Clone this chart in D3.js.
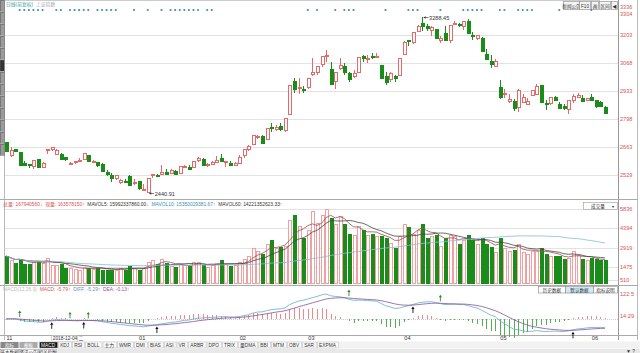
<!DOCTYPE html>
<html>
<head>
<meta charset="utf-8">
<script src="https://cdn.jsdelivr.net/npm/d3@7"></script>
<style>
  body { margin: 0; background: #fff; }
  svg { display: block; font-family: Arial, "Liberation Sans", "Noto Sans CJK SC", sans-serif; }
</style>
</head>
<body>
<svg id="chart" width="640" height="353"></svg>
<script>
'use strict'

const d3 = window.d3

// daily bars, SSE composite, 2018-11-20 .. 2019-06-06
const dates = [
  '2018-11-20', '2018-11-21', '2018-11-22', '2018-11-23', '2018-11-26', '2018-11-27', '2018-11-28', '2018-11-29', '2018-11-30',
  '2018-12-03', '2018-12-04', '2018-12-05', '2018-12-06', '2018-12-07', '2018-12-10', '2018-12-11', '2018-12-12', '2018-12-13',
  '2018-12-14', '2018-12-17', '2018-12-18', '2018-12-19', '2018-12-20', '2018-12-21', '2018-12-24', '2018-12-25', '2018-12-26',
  '2018-12-27', '2018-12-28',
  '2019-01-02', '2019-01-03', '2019-01-04', '2019-01-07', '2019-01-08', '2019-01-09', '2019-01-10', '2019-01-11', '2019-01-14',
  '2019-01-15', '2019-01-16', '2019-01-17', '2019-01-18', '2019-01-21', '2019-01-22', '2019-01-23', '2019-01-24', '2019-01-25',
  '2019-01-28', '2019-01-29', '2019-01-30', '2019-01-31',
  '2019-02-01', '2019-02-11', '2019-02-12', '2019-02-13', '2019-02-14', '2019-02-15', '2019-02-18', '2019-02-19', '2019-02-20',
  '2019-02-21', '2019-02-22', '2019-02-25', '2019-02-26', '2019-02-27', '2019-02-28',
  '2019-03-01', '2019-03-04', '2019-03-05', '2019-03-06', '2019-03-07', '2019-03-08', '2019-03-11', '2019-03-12', '2019-03-13',
  '2019-03-14', '2019-03-15', '2019-03-18', '2019-03-19', '2019-03-20', '2019-03-21', '2019-03-22', '2019-03-25', '2019-03-26',
  '2019-03-27', '2019-03-28', '2019-03-29',
  '2019-04-01', '2019-04-02', '2019-04-03', '2019-04-04', '2019-04-08', '2019-04-09', '2019-04-10', '2019-04-11', '2019-04-12',
  '2019-04-15', '2019-04-16', '2019-04-17', '2019-04-18', '2019-04-19', '2019-04-22', '2019-04-23', '2019-04-24', '2019-04-25',
  '2019-04-26', '2019-04-29', '2019-04-30',
  '2019-05-06', '2019-05-07', '2019-05-08', '2019-05-09', '2019-05-10', '2019-05-13', '2019-05-14', '2019-05-15', '2019-05-16',
  '2019-05-17', '2019-05-20', '2019-05-21', '2019-05-22', '2019-05-23', '2019-05-24', '2019-05-27', '2019-05-28', '2019-05-29',
  '2019-05-30', '2019-05-31',
  '2019-06-03', '2019-06-04', '2019-06-05', '2019-06-06'
]

const opens = [
  2688, 2623, 2654, 2640, 2586, 2580, 2574, 2605, 2567,
  2647, 2655, 2632, 2630, 2614, 2583, 2591, 2600, 2606, 2627, 2592, 2591, 2583, 2542, 2528, 2513, 2497, 2501, 2524, 2489,
  2498, 2461, 2446, 2528, 2530, 2535, 2543, 2540, 2548, 2539, 2568, 2569, 2568, 2599, 2606, 2575, 2582, 2592, 2610, 2591, 2589, 2578,
  2589, 2626, 2652, 2677, 2711, 2717, 2700, 2760, 2750, 2764, 2748, 2825, 2980, 2948, 2942,
  2954, 3016, 3023, 3062, 3101, 3039, 2981, 3042, 3052, 3021, 3004, 3027, 3101, 3086, 3104, 3101, 3058, 3008, 2989, 3004, 3009,
  3112, 3177, 3167, 3221, 3261, 3244, 3226, 3232, 3180, 3213, 3178, 3262, 3256, 3248, 3271, 3203, 3188, 3187, 3113, 3076, 3052,
  2954, 2922, 2887, 2883, 2858, 2880, 2870, 2913, 2920, 2960, 2877, 2874, 2904, 2870, 2860, 2846, 2890, 2904, 2900, 2889,
  2906, 2889, 2880, 2856
]

const highs = [
  2689, 2663, 2656, 2642, 2596, 2583, 2602, 2606, 2593,
  2655, 2666, 2654, 2635, 2616, 2592, 2596, 2612, 2634, 2627, 2603, 2591, 2586, 2551, 2537, 2527, 2512, 2508, 2531, 2512,
  2500, 2488, 2515, 2536, 2532, 2575, 2557, 2556, 2553, 2571, 2576, 2577, 2598, 2618, 2611, 2588, 2596, 2619, 2630, 2597, 2596, 2591,
  2623, 2654, 2674, 2722, 2723, 2721, 2755, 2779, 2769, 2780, 2804, 2961, 2997, 2994, 2959,
  2995, 3090, 3055, 3103, 3129, 3075, 3027, 3091, 3070, 3027, 3036, 3096, 3106, 3108, 3118, 3117, 3060, 3023, 3024, 3009, 3093,
  3176, 3180, 3217, 3251, 3288.45, 3254, 3248, 3233, 3197, 3245, 3253, 3270, 3262, 3272, 3281, 3216, 3205, 3194, 3137, 3105, 3089,
  2987, 2942, 2921, 2896, 2941, 2917, 2902, 2939, 2965, 2963, 2891, 2906, 2911, 2881, 2870, 2892, 2918, 2926, 2912, 2902,
  2919, 2889, 2887, 2859
]

const lows = [
  2640, 2614, 2638, 2577, 2571, 2562, 2560, 2566, 2567,
  2628, 2643, 2630, 2604, 2598, 2576, 2583, 2596, 2602, 2593, 2586, 2568, 2543, 2526, 2496, 2504, 2488, 2494, 2483, 2483,
  2456, 2455, 2440.91, 2516, 2520, 2534, 2533, 2535, 2534, 2538, 2563, 2554, 2566, 2591, 2577, 2569, 2576, 2588, 2596, 2569, 2575, 2574,
  2589, 2612, 2646, 2677, 2704, 2681, 2700, 2737, 2743, 2741, 2735, 2825, 2922, 2918, 2922,
  2944, 3006, 3009, 3050, 3075, 2969, 2941, 3034, 3010, 2976, 2997, 3020, 3072, 3068, 3086, 3090, 2993, 2961, 2979, 2979, 3005,
  3110, 3150, 3161, 3216, 3220, 3224, 3200, 3186, 3166, 3175, 3163, 3249, 3240, 3228, 3208, 3178, 3179, 3123, 3085, 3045, 3052,
  2896, 2901, 2876, 2838, 2834, 2881, 2864, 2908, 2919, 2878, 2844, 2867, 2884, 2852, 2840, 2823, 2878, 2900, 2880, 2889,
  2883, 2853, 2855, 2822
]

const closes = [
  2645, 2651, 2645, 2579, 2576, 2575, 2601, 2567, 2588,
  2654, 2666, 2649, 2605, 2606, 2585, 2594, 2602, 2634, 2594, 2597, 2576, 2550, 2536, 2516, 2527, 2504, 2498, 2483, 2494,
  2465, 2464, 2515, 2534, 2526, 2545, 2536, 2554, 2536, 2570, 2570, 2560, 2596, 2610, 2579, 2581, 2592, 2601, 2597, 2594, 2575, 2585,
  2618, 2653, 2671, 2721, 2719, 2682, 2754, 2755, 2761, 2751, 2804, 2961, 2941, 2954, 2941,
  2994, 3027, 3054, 3102, 3106, 2969, 3026, 3060, 3027, 2991, 3022, 3096, 3091, 3091, 3101, 3104, 2998, 2977, 3022, 2995, 3091,
  3170, 3176, 3216, 3247, 3244, 3239, 3241, 3189, 3189, 3177, 3253, 3263, 3251, 3271, 3215, 3198, 3201, 3124, 3086, 3063, 3078,
  2906, 2926, 2894, 2850, 2939, 2903, 2884, 2939, 2956, 2882, 2871, 2905, 2892, 2853, 2853, 2892, 2910, 2914, 2886, 2899,
  2890, 2862, 2862, 2828
]

// volume, 1e7 shares
const volumes = [
  2320, 2050, 1800, 2100, 1750, 1700, 1850, 1900, 1800,
  2170, 1679, 1650, 1750, 1450, 1400, 1350, 1250, 1500, 1450, 1350, 1400, 1300, 1300, 1300, 1250, 1450, 1300, 1550, 1450,
  1300, 1400, 1900, 2000, 1700, 2100, 1800, 1600, 1500, 1700, 1650, 1550, 1850, 1900, 1650, 1500, 1650, 1800, 2000, 1700, 1550, 1650,
  1900, 2100, 2300, 2900, 2700, 2500, 3200, 3500, 2900, 3000, 3100, 5000, 5400, 4600, 3700,
  4300, 5700, 4800, 5400, 5836, 5200, 4700, 5300, 4700, 4000, 3900, 4600, 4300, 3900, 4000, 3800, 3800, 3700, 3300, 2900, 3800,
  4700, 4500, 4000, 4300, 4700, 3700, 3800, 3900, 3100, 3700, 3900, 3800, 3200, 3500, 3900, 3500, 3200, 3700, 3200, 3000, 2600,
  3700, 2900, 2700, 2800, 3200, 2600, 2500, 2700, 2700, 2900, 2500, 2300, 2300, 2300, 2100, 2200, 2700, 2400, 2100, 2000,
  2200, 2100, 2000, 2000
]

const priceTicks = [3336, 3304, 3203, 3068, 2933, 2798, 2663, 2529]
const priceGrid = [3203, 3068, 2933, 2798, 2663, 2529]
const volTicks = [5836, 4394, 2919, 1475, 510]
const macdTicks = [122.5, 14.29]
const monthStarts = ['2018-11-20', '2019-01-02', '2019-02-01', '2019-03-01', '2019-04-01', '2019-05-06', '2019-06-03']
const monthLabels = ['11', '01', '02', '03', '04', '05', '06']
const cursorDate = '2018-12-04'
const signalIdx = [3, 4, 5, 6, 7, 8, 11, 12, 14, 15, 16, 17, 18, 20, 21, 22, 23, 24, 28, 31, 34, 36, 37, 38, 39, 40, 41, 42, 44, 45,
  66, 68, 72, 74, 75, 76, 83, 88, 89, 90, 95, 100, 101, 102, 103, 104, 108, 109, 112, 113, 114, 115, 121, 128]
const goldenIdx = [10, 17, 33, 89, 124]
const deathIdx = [3, 14, 18, 75, 95]
const tabs = ['MACD', 'KDJ', 'RSI', 'BOLL', '主力', 'WMR', 'DMI', 'BIAS', 'ASI', 'VR', 'ARBR', 'DPO', 'TRIX', '量DMA', 'BBI', 'MTM', 'OBV', 'SAR', 'EXPMA']

const UP = '#e46a6a'
const UP_VOL = '#f0a0a0'
const DOWN = '#1a8c1a'
const AXIS_RED = '#d9534f'
const GRID = '#e2e2e2'
const FS = 5.6

const svg = d3.select('#chart')
svg.append('rect').attr('width', 640).attr('height', 353).attr('fill', '#fff')

const x = d3.scalePoint().domain(dates).range([6, 605])
const xr = (d) => Math.round(x(d)) + 0.5

// ---- frame ----
const frame = svg.append('g').attr('shape-rendering', 'crispEdges')
frame.append('line').attr('x1', 0).attr('x2', 600).attr('y1', 0.5).attr('y2', 0.5).attr('stroke', '#ccc')
frame.append('line').attr('x1', 618.5).attr('x2', 618.5).attr('y1', 0).attr('y2', 340).attr('stroke', '#999')
frame.append('line').attr('x1', 637.5).attr('x2', 637.5).attr('y1', 0).attr('y2', 340).attr('stroke', '#bbb')
frame.append('line').attr('x1', 4.5).attr('x2', 4.5).attr('y1', 0).attr('y2', 340).attr('stroke', '#bbb')
frame.append('line').attr('x1', 0).attr('x2', 638).attr('y1', 199.5).attr('y2', 199.5).attr('stroke', '#aaa')
frame.append('line').attr('x1', 0).attr('x2', 638).attr('y1', 285.5).attr('y2', 285.5).attr('stroke', '#aaa')
frame.append('line').attr('x1', 0).attr('x2', 638).attr('y1', 335.5).attr('y2', 335.5).attr('stroke', '#aaa')

// left tool strip
const strip = svg.append('g').attr('shape-rendering', 'crispEdges')
d3.range(0, 150, 12).forEach((y0, k) => {
  strip.append('rect').attr('x', 0).attr('y', y0).attr('width', 4).attr('height', 11)
    .attr('fill', k === 5 ? '#333' : '#9a9a9a').attr('stroke', '#555').attr('stroke-width', 0.5)
})

// title
svg.append('text').attr('x', 6).attr('y', 5.5).attr('font-size', 4.8).attr('fill', '#3aa0a0').text('日线(前复权)')
svg.append('text').attr('x', 36).attr('y', 5.5).attr('font-size', 4.8).attr('fill', '#aaa').text('上证指数')

// top-right buttons
const btns = [['新闻公告', 563, 16], ['F10', 579, 11], ['画', 591, 7], ['区间', 599, 11], ['◀', 611, 6]]
btns.forEach(([t, bx, bw]) => {
  svg.append('rect').attr('x', bx + 0.5).attr('y', 1.5).attr('width', bw).attr('height', 8)
    .attr('fill', '#f4f4f4').attr('stroke', '#888').attr('stroke-width', 0.6)
  svg.append('text').attr('x', bx + bw / 2 + 0.5).attr('y', 7.5).attr('text-anchor', 'middle')
    .attr('font-size', 4.6).attr('fill', '#333').text(t)
})

// ---- price panel ----
const y = d3.scaleLinear().domain([2529, 3203]).range([175, 35])

svg.append('g').attr('shape-rendering', 'crispEdges')
  .selectAll('line').data(priceGrid).enter().append('line')
  .attr('x1', 5).attr('x2', 618).attr('y1', (d) => Math.round(y(d)) + 0.5).attr('y2', (d) => Math.round(y(d)) + 0.5)
  .attr('stroke', GRID)

svg.append('g').selectAll('text').data(priceTicks).enter().append('text')
  .attr('x', 620).attr('y', (d) => y(d) + 2).attr('font-size', FS).attr('fill', AXIS_RED).text((d) => d)

// signal dots
svg.append('g').selectAll('circle').data(signalIdx).enter().append('circle')
  .attr('cx', (i) => x(dates[i])).attr('cy', 10).attr('r', 1.1).attr('fill', '#3e8fb3')

const bars = dates.map((d, i) => ({ d, o: opens[i], h: highs[i], l: lows[i], c: closes[i], v: volumes[i], up: closes[i] >= opens[i] }))

const candles = svg.append('g').attr('shape-rendering', 'crispEdges')
  .selectAll('g').data(bars).enter().append('g')

candles.append('line')
  .attr('x1', (b) => xr(b.d)).attr('x2', (b) => xr(b.d))
  .attr('y1', (b) => Math.round(y(b.h))).attr('y2', (b) => Math.round(y(b.l)))
  .attr('stroke', (b) => b.up ? UP : DOWN)

candles.append('rect')
  .attr('x', (b) => xr(b.d) - 1.5)
  .attr('y', (b) => Math.round(y(Math.max(b.o, b.c))) + 0.5)
  .attr('width', 3)
  .attr('height', (b) => Math.max(1, Math.round(y(Math.min(b.o, b.c))) - Math.round(y(Math.max(b.o, b.c)))))
  .attr('fill', (b) => b.up ? '#fff' : DOWN)
  .attr('stroke', (b) => b.up ? UP : DOWN)

// extreme labels
const hiIdx = d3.maxIndex(highs)
const loIdx = d3.minIndex(lows)
const markExtreme = (i, v) => {
  const px = x(dates[i]) + 1.5
  const py = Math.round(y(v)) + 0.5
  svg.append('line').attr('x1', px).attr('x2', px + 5).attr('y1', py).attr('y2', py).attr('stroke', '#333').attr('stroke-width', 0.6)
  svg.append('path').attr('d', `M${px},${py} l2,-1.2 v2.4 z`).attr('fill', '#333')
  svg.append('text').attr('x', px + 5.5).attr('y', py + 2).attr('font-size', FS).attr('fill', '#333').text(v.toFixed(2))
}
markExtreme(hiIdx, highs[hiIdx])
markExtreme(loIdx, lows[loIdx])

// ---- volume panel ----
const yv = d3.scaleLinear().domain([0, 5836]).range([286.8, 209.3])
const volBase = 283

svg.append('g').attr('shape-rendering', 'crispEdges')
  .selectAll('line').data(volTicks).enter().append('line')
  .attr('x1', 5).attr('x2', 618).attr('y1', (d) => Math.round(yv(d)) + 0.5).attr('y2', (d) => Math.round(yv(d)) + 0.5)
  .attr('stroke', GRID)

svg.append('g').selectAll('text').data(volTicks).enter().append('text')
  .attr('x', 620).attr('y', (d) => yv(d) + 2).attr('font-size', FS).attr('fill', AXIS_RED).text((d) => d)

svg.append('g').attr('shape-rendering', 'crispEdges')
  .selectAll('rect').data(bars).enter().append('rect')
  .attr('x', (b) => xr(b.d) - 1.5)
  .attr('y', (b) => Math.round(yv(b.v)) + 0.5)
  .attr('width', 3)
  .attr('height', (b) => volBase - Math.round(yv(b.v)))
  .attr('fill', (b) => b.up ? '#fff' : DOWN)
  .attr('stroke', (b) => b.up ? UP_VOL : DOWN)

const movingAvg = (arr, n) => arr.map((_, i) => d3.mean(arr.slice(Math.max(0, i - n + 1), i + 1)))
const volLine = d3.line().x((d, i) => x(dates[i])).y((d) => yv(d))
const maSpecs = [[5, '#9b4b4b'], [10, '#444'], [60, '#86bcd8']]
maSpecs.forEach(([n, col]) => {
  svg.append('path').attr('d', volLine(movingAvg(volumes, n))).attr('fill', 'none').attr('stroke', col).attr('stroke-width', 0.8)
})

// volume header
const volHeader = [
  ['总量: 167940560', '#d9534f'], ['↓', '#3a9a3a'], ['  现量: 163578150', '#d9534f'], ['↑', '#d9534f'],
  ['  MAVOL5: 15992337860.00', '#333'], ['↓', '#3a9a3a'], ['  MAVOL10: 15350029381.67', '#3a90b8'], ['↑', '#d9534f'],
  ['  MAVOL60: 14221352623.33', '#333'], ['↑', '#d9534f']
]
const vh = svg.append('text').attr('x', 3).attr('y', 205.5).attr('font-size', 4.9).attr('xml:space', 'preserve')
volHeader.forEach(([t, col]) => vh.append('tspan').attr('fill', col).text(t))

svg.append('rect').attr('x', 583.5).attr('y', 202.5).attr('width', 34).attr('height', 7)
  .attr('fill', '#fff').attr('stroke', '#999').attr('stroke-width', 0.6)
svg.append('text').attr('x', 598).attr('y', 208).attr('text-anchor', 'middle').attr('font-size', 4.6).attr('fill', '#333').text('成交量')
svg.append('text').attr('x', 613).attr('y', 208).attr('text-anchor', 'middle').attr('font-size', 3.6).attr('fill', '#333').text('▼')

// data buttons
const dataBtns = [['历史数据', 538, 27, '#fff'], ['默认数据', 565, 28, '#cfeaf5'], ['指标说明', 593, 24, '#fff']]
dataBtns.forEach(([t, bx, bw, bg]) => {
  svg.append('rect').attr('x', bx + 0.5).attr('y', 286.5).attr('width', bw).attr('height', 6.5)
    .attr('fill', bg).attr('stroke', '#888').attr('stroke-width', 0.6)
  svg.append('text').attr('x', bx + bw / 2 + 0.5).attr('y', 291.8).attr('text-anchor', 'middle')
    .attr('font-size', 4.6).attr('fill', '#333').text(t)
})

// ---- MACD panel ----
const ema = (arr, n) => {
  const k = 2 / (n + 1)
  const out = []
  arr.forEach((v, i) => out.push(i === 0 ? v : v * k + out[i - 1] * (1 - k)))
  return out
}
const ema12 = ema(closes, 12)
const ema26 = ema(closes, 26)
const diff = closes.map((_, i) => ema12[i] - ema26[i])
const dea = ema(diff, 9)
const macd = diff.map((v, i) => 2 * (v - dea[i]))

const ym = d3.scaleLinear().domain([14.29, 122.5]).range([316, 294])

svg.append('line').attr('x1', 5).attr('x2', 618).attr('y1', Math.round(ym(0)) + 0.5).attr('y2', Math.round(ym(0)) + 0.5)
  .attr('stroke', '#ccc').attr('stroke-dasharray', '1,1').attr('shape-rendering', 'crispEdges')

svg.append('g').selectAll('text').data(macdTicks).enter().append('text')
  .attr('x', 620).attr('y', (d) => ym(d) + 2).attr('font-size', FS).attr('fill', AXIS_RED).text((d) => d)

svg.append('g').attr('shape-rendering', 'crispEdges')
  .selectAll('line').data(macd).enter().append('line')
  .attr('x1', (d, i) => xr(dates[i])).attr('x2', (d, i) => xr(dates[i]))
  .attr('y1', Math.round(ym(0))).attr('y2', (d) => Math.round(ym(d)))
  .attr('stroke', (d) => d >= 0 ? '#ec8a8a' : '#52b052')

const macdLine = d3.line().x((d, i) => x(dates[i])).y((d) => ym(d))
svg.append('path').attr('d', macdLine(diff)).attr('fill', 'none').attr('stroke', '#5fb0c0').attr('stroke-width', 0.8)
svg.append('path').attr('d', macdLine(dea)).attr('fill', 'none').attr('stroke', '#8a4f9e').attr('stroke-width', 0.8)

const arrow = (i, col, below) => {
  const ax = x(dates[i])
  const ay = below ? ym(Math.min(diff[i], dea[i])) + 8 : ym(Math.max(diff[i], dea[i])) - 2
  svg.append('line').attr('x1', ax).attr('x2', ax).attr('y1', ay).attr('y2', ay - 5).attr('stroke', col).attr('stroke-width', 0.9)
  svg.append('path').attr('d', `M${ax},${ay - 6.5} l-1.6,2.4 h3.2 z`).attr('fill', col)
}
goldenIdx.forEach((i) => arrow(i, '#111', true))
deathIdx.forEach((i) => arrow(i, '#2a8a2a', false))

const mh = svg.append('text').attr('x', 3).attr('y', 290.5).attr('font-size', 4.9).attr('xml:space', 'preserve')
const macdHeader = [['MACD(12,26,9)  ', '#bbb'], ['MACD: -5.79', '#d9534f'], ['↑', '#d9534f'], ['  DIFF: -5.29', '#5f8fc0'],
  ['↑', '#d9534f'], ['  DEA: -0.13', '#9a4f9e'], ['↑', '#d9534f']]
macdHeader.forEach(([t, col]) => mh.append('tspan').attr('fill', col).text(t))

// ---- time axis ----
svg.append('g').selectAll('text').data(monthStarts).enter().append('text')
  .attr('x', (d) => x(d) + 0.5).attr('y', 340).attr('font-size', FS).attr('fill', '#333')
  .text((d, k) => monthLabels[k])

const cx = x(cursorDate)
svg.append('rect').attr('x', cx - 0.5).attr('y', 335.5).attr('width', 26).attr('height', 6)
  .attr('fill', '#fff').attr('stroke', '#aaa').attr('stroke-width', 0.5)
svg.append('text').attr('x', cx + 1).attr('y', 340).attr('font-size', 4.8).attr('fill', '#333').text(`${cursorDate} 二`)

// ---- indicator tabs ----
const tabRow = svg.append('g')
tabRow.append('rect').attr('x', 0).attr('y', 341.5).attr('width', 640).attr('height', 7).attr('fill', '#f2f2f2')
tabRow.append('rect').attr('x', 0.5).attr('y', 342).attr('width', 18).attr('height', 6).attr('fill', '#888')
tabRow.append('rect').attr('x', 19.5).attr('y', 342).attr('width', 18).attr('height', 6).attr('fill', '#aaa')
tabRow.append('text').attr('x', 9.5).attr('y', 346.8).attr('text-anchor', 'middle').attr('font-size', 4.5).attr('fill', '#fff').text('指标')
tabRow.append('text').attr('x', 28.5).attr('y', 346.8).attr('text-anchor', 'middle').attr('font-size', 4.5).attr('fill', '#fff').text('模板')
let tx = 39
tabs.forEach((t, k) => {
  const tt = tabRow.append('text').attr('x', tx + 2).attr('y', 346.8).attr('font-size', 4.8)
    .attr('fill', k === 0 ? '#fff' : '#333').text(t)
  const w = tt.node().getComputedTextLength() + 4
  tabRow.insert('rect', 'text').attr('x', tx + 0.5).attr('y', 342).attr('width', w).attr('height', 6)
    .attr('fill', k === 0 ? '#111' : '#fafafa').attr('stroke', '#bbb').attr('stroke-width', 0.5)
  tx += w + 1
})

// bottom strip
const bottom = svg.append('g')
bottom.append('rect').attr('x', 0).attr('y', 349).attr('width', 640).attr('height', 4).attr('fill', '#e8e8e8')
const btm = [['基本数据', 0], ['资讯公告', 19], ['相关指数', 38]]
btm.forEach(([t, bx]) => {
  bottom.append('rect').attr('x', bx + 0.5).attr('y', 349.5).attr('width', 18).attr('height', 5).attr('fill', '#fff').attr('stroke', '#999').attr('stroke-width', 0.5)
  bottom.append('text').attr('x', bx + 9.5).attr('y', 353.5).attr('text-anchor', 'middle').attr('font-size', 4.5).attr('fill', '#333').text(t)
})
bottom.append('text').attr('x', 626).attr('y', 353).attr('font-size', 5).attr('fill', '#333').text('▼ ?')
</script>
</body>
</html>
